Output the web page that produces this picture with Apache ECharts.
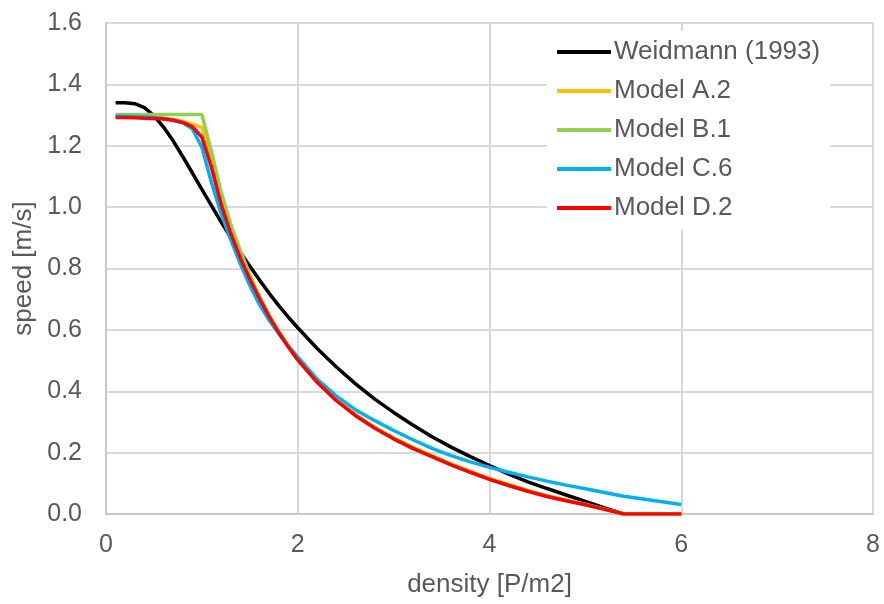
<!DOCTYPE html>
<html>
<head>
<meta charset="utf-8">
<title>speed-density</title>
<script src="https://cdn.jsdelivr.net/npm/echarts@6/dist/echarts.min.js"></script>
<style>
  html, body { margin: 0; padding: 0; background: #fff; }
  #chart { width: 884px; height: 604px; }
</style>
</head>
<body>
<div id="chart"></div>
<script>
// density values (P/m2), shared by all series
const density = [
  0.1, 0.2, 0.3, 0.4, 0.5, 0.6, 0.7, 0.8, 0.9, 1.0,
  1.1, 1.2, 1.3, 1.4, 1.5, 1.6, 1.7, 1.8, 1.9, 2.0,
  2.2, 2.4, 2.6, 2.8, 3.0, 3.2, 3.4, 3.6, 3.8, 4.0,
  4.2, 4.4, 4.6, 4.8, 5.0, 5.2, 5.4, 5.6, 5.8, 6.0
];

// speeds (m/s)
const weidmann = [
  1.340, 1.340, 1.337, 1.324, 1.298, 1.261, 1.216, 1.165, 1.112, 1.058,
  1.005, 0.952, 0.902, 0.853, 0.807, 0.763, 0.720, 0.680, 0.642, 0.607,
  0.540, 0.480, 0.425, 0.375, 0.331, 0.290, 0.252, 0.218, 0.187, 0.158,
  0.130, 0.105, 0.083, 0.062, 0.041, 0.020, 0.000, null, null, null
];
const modelA2 = [
  1.295, 1.295, 1.294, 1.293, 1.292, 1.290, 1.286, 1.279, 1.270, 1.260,
  1.160, 1.040, 0.940, 0.855, 0.775, 0.708, 0.648, 0.595, 0.548, 0.505,
  0.433, 0.373, 0.324, 0.283, 0.248, 0.217, 0.190, 0.163, 0.139, 0.116,
  0.096, 0.077, 0.060, 0.046, 0.032, 0.016, 0.000, 0.000, 0.000, 0.000
];
const modelB1 = [
  1.302, 1.302, 1.302, 1.302, 1.302, 1.302, 1.302, 1.302, 1.302, 1.302,
  1.180, 1.050, 0.945, 0.860, 0.780, 0.710, 0.648, 0.594, 0.546, 0.502,
  0.430, 0.370, 0.321, 0.280, 0.245, 0.214, 0.187, 0.160, 0.136, 0.113,
  0.093, 0.074, 0.057, 0.043, 0.030, 0.015, 0.000, 0.000, 0.000, 0.000
];
const modelC6 = [
  1.296, 1.296, 1.295, 1.294, 1.292, 1.289, 1.284, 1.275, 1.255, 1.195,
  1.080, 0.980, 0.895, 0.815, 0.745, 0.683, 0.632, 0.588, 0.548, 0.512,
  0.440, 0.385, 0.340, 0.305, 0.272, 0.242, 0.214, 0.190, 0.170, 0.152,
  0.136, 0.121, 0.107, 0.094, 0.082, 0.070, 0.058, 0.049, 0.040, 0.031
];
const modelD2 = [
  1.292, 1.292, 1.291, 1.290, 1.289, 1.287, 1.283, 1.276, 1.262, 1.228,
  1.130, 1.010, 0.915, 0.835, 0.765, 0.702, 0.644, 0.592, 0.545, 0.502,
  0.430, 0.370, 0.321, 0.280, 0.245, 0.214, 0.187, 0.160, 0.136, 0.113,
  0.093, 0.074, 0.057, 0.043, 0.030, 0.015, 0.000, 0.000, 0.000, 0.000
];

const seriesNames = ['Weidmann (1993)', 'Model A.2', 'Model B.1', 'Model C.6', 'Model D.2'];
const seriesValues = [weidmann, modelA2, modelB1, modelC6, modelD2];
const seriesColors = ['#000000', '#FFC000', '#92D050', '#00B0F0', '#FF0000'];

const xTicks = [0, 2, 4, 6, 8];

const FONT = '"Liberation Sans", Arial, sans-serif';
const TEXT_COLOR = '#595959';

// pair each speed with its density, dropping gaps
const toPoints = (values) =>
  density.map((d, i) => [d, values[i]]).filter((p) => p[1] !== null);

const chart = echarts.init(document.getElementById('chart'), null, { renderer: 'canvas' });

chart.setOption({
  animation: false,
  backgroundColor: '#fff',
  textStyle: { fontFamily: FONT, color: TEXT_COLOR },
  grid: { left: 106, right: 11, top: 23, bottom: 90 },
  legend: {
    data: seriesNames,
    orient: 'vertical',
    left: 547,
    top: 31,
    padding: [8, 10, 8, 10],
    backgroundColor: '#fff',
    icon: 'rect',
    itemWidth: 54,
    itemHeight: 4,
    itemGap: 13,
    textStyle: { fontFamily: FONT, fontSize: 26, color: TEXT_COLOR, lineHeight: 26, padding: [0, 0, 0, -2] },
  },
  xAxis: {
    type: 'value',
    min: xTicks[0],
    max: xTicks[xTicks.length - 1],
    interval: 2,
    name: 'density [P/m2]',
    nameLocation: 'middle',
    nameGap: 58,
    nameTextStyle: { fontFamily: FONT, fontSize: 26, color: TEXT_COLOR },
    axisLine: { show: true, lineStyle: { color: '#c8c8c8', width: 2 } },
    axisTick: { show: false },
    axisLabel: { fontFamily: FONT, fontSize: 25, color: TEXT_COLOR, margin: 19 },
    splitLine: { show: true, lineStyle: { color: '#d9d9d9', width: 2 } },
  },
  yAxis: {
    type: 'value',
    min: 0,
    max: 1.6,
    interval: 0.2,
    name: 'speed [m/s]',
    nameLocation: 'middle',
    nameGap: 64,
    nameRotate: 90,
    nameTextStyle: { fontFamily: FONT, fontSize: 26, color: TEXT_COLOR },
    axisLine: { show: true, lineStyle: { color: '#c8c8c8', width: 2 } },
    axisTick: { show: false },
    axisLabel: {
      fontFamily: FONT,
      fontSize: 25,
      color: TEXT_COLOR,
      margin: 24,
      formatter: (v) => v.toFixed(1),
    },
    splitLine: { show: true, lineStyle: { color: '#d9d9d9', width: 2 } },
  },
  series: seriesNames.map((name, i) => ({
    name,
    type: 'line',
    data: toPoints(seriesValues[i]),
    showSymbol: false,
    symbol: 'none',
    smooth: false,
    color: seriesColors[i],
    lineStyle: { color: seriesColors[i], width: 3.5 },
    z: 2 + i,
  })),
});
</script>
</body>
</html>
